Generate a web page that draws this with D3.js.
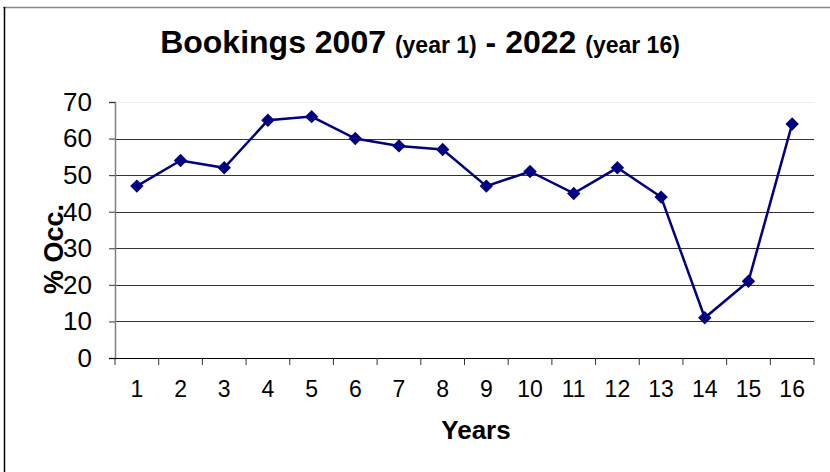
<!DOCTYPE html>
<html>
<head>
<meta charset="utf-8">
<script src="https://cdn.jsdelivr.net/npm/d3@7.9.0/dist/d3.min.js"></script>
<style>
  body { margin: 0; background: #fff; }
  svg { display: block; font-family: Arial, "Liberation Sans", sans-serif; }
</style>
</head>
<body>
<svg id="chart" width="830" height="472"></svg>
<script>
const years = ["1", "2", "3", "4", "5", "6", "7", "8", "9", "10", "11", "12", "13", "14", "15", "16"];
const occupancy = [47, 54, 52, 65, 66, 60, 58, 57, 47, 51, 45, 52, 44, 11, 21, 64];
const yTicks = [0, 10, 20, 30, 40, 50, 60, 70];

const svg = d3.select("#chart");
const margin = { top: 102, right: 16, bottom: 114, left: 115 };
const width = 830 - margin.left - margin.right;
const height = 472 - margin.top - margin.bottom;

// frame of the picture
svg.append("line").attr("x1", 3).attr("x2", 830).attr("y1", 7.5).attr("y2", 7.5)
  .attr("stroke", "#888").attr("stroke-width", 1.5);
svg.append("line").attr("x1", 4.5).attr("x2", 4.5).attr("y1", 7).attr("y2", 472)
  .attr("stroke", "#000").attr("stroke-width", 1.5);

const g = svg.append("g").attr("transform", `translate(${margin.left},${margin.top})`);

const x = d3.scaleBand().domain(years).range([0, width]);
const y = d3.scaleLinear().domain([0, 70]).range([height, 0]);

// grid
g.append("g")
  .selectAll("line")
  .data(yTicks.filter((d) => d > 0))
  .join("line")
  .attr("x1", 0)
  .attr("x2", width)
  .attr("y1", (d) => Math.round(y(d)) + 0.5)
  .attr("y2", (d) => Math.round(y(d)) + 0.5)
  .attr("stroke", (d) => (d === 70 ? "#eee" : "#333"))
  .attr("stroke-width", 1.2);

// y axis
const yAxis = g.append("g")
  .call(d3.axisLeft(y).tickValues(yTicks).tickSize(6).tickPadding(17));
yAxis.select(".domain").attr("stroke", "#808080").attr("stroke-width", 1.5);
yAxis.selectAll(".tick line").attr("stroke", "#333");
yAxis.selectAll("text").attr("font-size", 26).attr("fill", "#000")
  .attr("font-family", "Arial, 'Liberation Sans', sans-serif");

// x axis, ticks between categories
const xAxis = g.append("g").attr("transform", `translate(0,${height})`);
xAxis.append("line").attr("x1", -6).attr("x2", width).attr("y1", 0.5).attr("y2", 0.5)
  .attr("stroke", "#000").attr("stroke-width", 1.2);
xAxis.selectAll("line.tk")
  .data(d3.range(years.length + 1))
  .join("line")
  .attr("class", "tk")
  .attr("x1", (i) => i * x.step())
  .attr("x2", (i) => i * x.step())
  .attr("y1", 0)
  .attr("y2", 7)
  .attr("stroke", "#333");
xAxis.selectAll("text")
  .data(years)
  .join("text")
  .attr("x", (d) => x(d) + x.bandwidth() / 2)
  .attr("y", 39)
  .attr("text-anchor", "middle")
  .attr("font-size", 23)
  .text((d) => d);

// line and markers
const line = d3.line()
  .x((d, i) => x(years[i]) + x.bandwidth() / 2)
  .y((d) => y(d));

g.append("path")
  .datum(occupancy)
  .attr("d", line)
  .attr("fill", "none")
  .attr("stroke", "#000080")
  .attr("stroke-width", 2.5);

g.selectAll("path.pt")
  .data(occupancy)
  .join("path")
  .attr("class", "pt")
  .attr("d", d3.symbol(d3.symbolSquare, 90))
  .attr("transform", (d, i) => `translate(${x(years[i]) + x.bandwidth() / 2},${y(d)}) rotate(45)`)
  .attr("fill", "#000080");

// titles
const title = svg.append("text")
  .attr("x", 420)
  .attr("y", 53)
  .attr("text-anchor", "middle")
  .attr("font-weight", "bold")
  .attr("fill", "#000");
title.append("tspan").attr("font-size", 32).text("Bookings 2007 ");
title.append("tspan").attr("font-size", 23).text("(year 1)");
title.append("tspan").attr("font-size", 32).text(" - 2022 ");
title.append("tspan").attr("font-size", 23).text("(year 16)");

svg.append("text")
  .attr("x", 476)
  .attr("y", 439)
  .attr("text-anchor", "middle")
  .attr("font-weight", "bold")
  .attr("font-size", 26)
  .text("Years");

svg.append("text")
  .attr("transform", "translate(63,249) rotate(-90)")
  .attr("text-anchor", "middle")
  .attr("font-weight", "bold")
  .attr("font-size", 27)
  .text("% Occ.");
</script>
</body>
</html>
